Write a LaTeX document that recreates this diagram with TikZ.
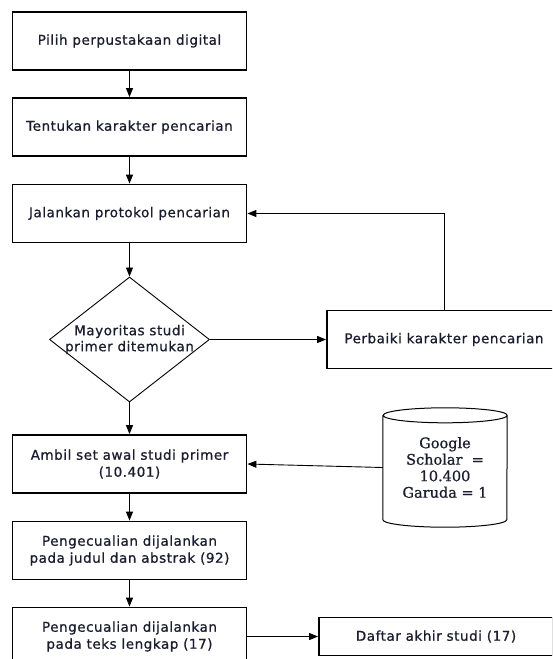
\documentclass[tikz,border=0pt]{standalone}
\usepackage{fontspec}
\setmainfont{DejaVu Sans}[LetterSpace=4,FakeBold=0.8]
\newfontfamily\dbfont{DejaVu Serif}[FakeBold=0.8]
\usetikzlibrary{shapes.geometric,arrows.meta}
\definecolor{ink}{RGB}{28,28,48}

\begin{document}
\begin{tikzpicture}[x=1pt,y=1pt,
  box/.style={draw,line width=1.8pt,minimum width=234pt,minimum height=58pt,align=center,text=ink,font=\fontsize{13.5}{17}\selectfont},
  decision/.style={draw,diamond,line width=0.9pt,minimum width=160pt,minimum height=125pt,inner sep=0pt},
  dbtext/.style={minimum width=124pt,minimum height=119pt,inner sep=0pt,align=center,text=ink,font=\dbfont\fontsize{14.5}{16.5}\selectfont},
  arr/.style={line width=0.9pt,-{Triangle[length=9pt,width=7pt]}}]
\clip (0,0) rectangle (552,-659);
\node[box] (pilih) at (129.5,-41) {Pilih perpustakaan digital};
\node[box] (tentukan) at (129.5,-127) {Tentukan karakter pencarian};
\node[box] (jalankan) at (129.5,-213.5) {Jalankan protokol pencarian};
\node[decision,label={[align=center,text=ink,font=\fontsize{13.5}{16}\selectfont]center:Mayoritas studi\\primer ditemukan}] (dec) at (129.5,-339.5) {};
\node[box] (perbaiki) at (444,-339.5) {Perbaiki karakter pencarian};
\node[box] (ambil) at (129.5,-464) {Ambil set awal studi primer\\(10.401)};
\node[dbtext] (db) at (445,-467.5) {Google\\Scholar\ \ =\\10.400\\Garuda = 1};
\node[box] (pjudul) at (129.5,-550.5) {Pengecualian dijalankan\\pada judul dan abstrak (92)};
\node[box] (pteks) at (129.5,-636.5) {Pengecualian dijalankan\\pada teks lengkap (17)};
\node[box,minimum height=38pt] (daftar) at (436,-636.5) {Daftar akhir studi (17)};
\draw[line width=1pt] ([yshift=-7.5pt]db.north west) -- ([yshift=7.5pt]db.south west)
  arc[start angle=180,end angle=360,x radius=62pt,y radius=7.5pt] -- ([yshift=-7.5pt]db.north east)
  arc[start angle=0,end angle=180,x radius=62pt,y radius=7.5pt]
  arc[start angle=180,end angle=360,x radius=62pt,y radius=7.5pt];
\draw[arr] (pilih) -- (tentukan);
\draw[arr] (tentukan) -- (jalankan);
\draw[arr] (jalankan) -- (dec);
\draw[arr] (dec) -- (perbaiki);
\draw[arr] (perbaiki.north) |- (jalankan.east);
\draw[arr] (dec) -- (ambil);
\draw[arr] (db.west) -- (ambil.east);
\draw[arr] (ambil) -- (pjudul);
\draw[arr] (pjudul) -- (pteks);
\draw[arr] (pteks) -- (daftar);
\end{tikzpicture}
\end{document}
